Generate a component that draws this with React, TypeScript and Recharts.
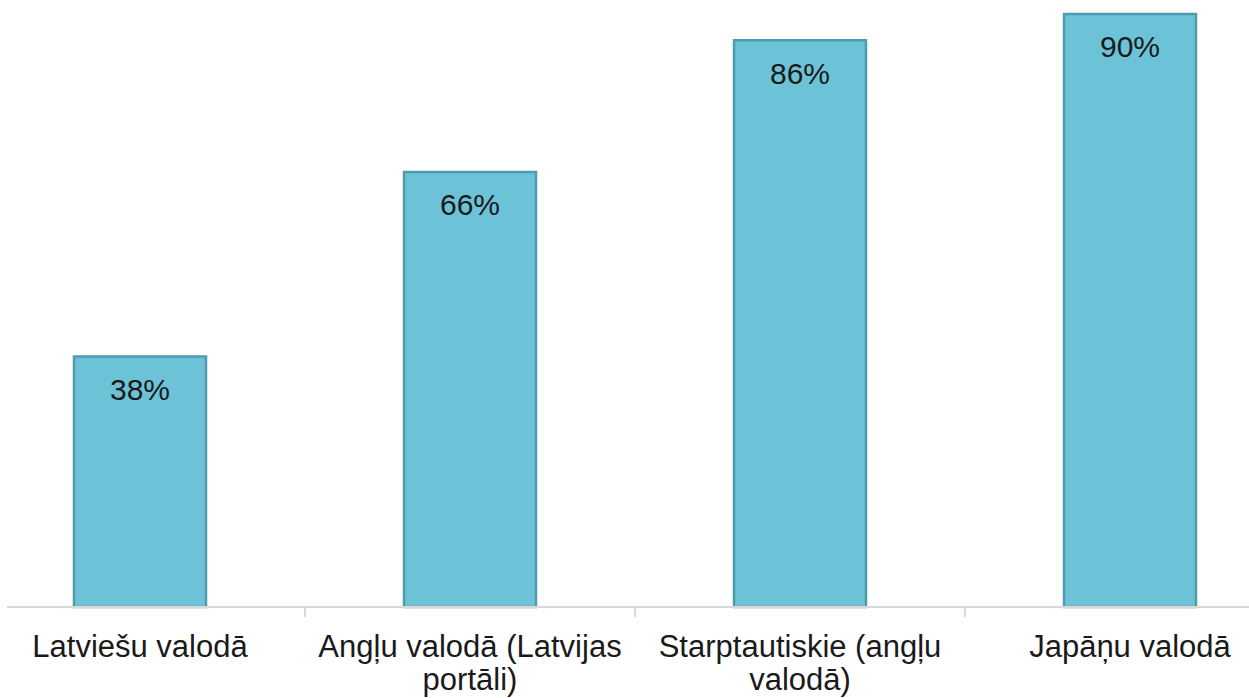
import { Bar, BarChart, LabelList, XAxis, YAxis } from "recharts";

const categories = [
  "Latviešu valodā",
  "Angļu valodā (Latvijas portāli)",
  "Starptautiskie (angļu valodā)",
  "Japāņu valodā",
];
const shares = [38, 66, 86, 90];

const data = categories.map((name, i) => ({ name, v: shares[i] }));

const FILL = "#6cc3d7";
const EDGE = "#4f9bb0";
const AXIS = "#d9d9d9";
const INK = "#1a1a1a";
const FONT = "'Liberation Sans', Arial, sans-serif";
const HALF_BAND = 165;

function wrap(label: string, max = 22) {
  const lines: string[] = [];
  let cur = "";
  for (const w of label.split(" ")) {
    const next = cur ? `${cur} ${w}` : w;
    if (next.length > max && cur) {
      lines.push(cur);
      cur = w;
    } else cur = next;
  }
  if (cur) lines.push(cur);
  return lines;
}

function CategoryTick(props: any) {
  const { x, y, payload, index } = props;
  const lines = wrap(payload.value);
  return (
    <g>
      {index > 0 && (
        <line x1={x - HALF_BAND} x2={x - HALF_BAND} y1={y - 8} y2={y + 2} stroke={AXIS} strokeWidth={2} />
      )}
      <text x={x} y={y} textAnchor="middle" fill={INK} fontSize={31} fontFamily={FONT}>
        {lines.map((l, i) => (
          <tspan key={i} x={x} dy={i === 0 ? 42 : 33}>
            {l}
          </tspan>
        ))}
      </text>
    </g>
  );
}

export default function App() {
  return (
    <div style={{ position: "fixed", left: 0, top: 0, width: 1249, height: 698, overflow: "hidden", background: "#fff" }}>
      <div style={{ position: "absolute", left: -25, top: -62 }}>
        <BarChart width={1320} height={760} data={data} margin={{ top: 10, right: 0, left: 0, bottom: 0 }}>
          <YAxis hide domain={[0, 100]} />
          <XAxis
            dataKey="name"
            height={91}
            interval={0}
            axisLine={{ stroke: AXIS, strokeWidth: 2 }}
            tickLine={false}
            tick={<CategoryTick />}
          />
          <Bar dataKey="v" barSize={132} fill={FILL} stroke={EDGE} strokeWidth={2.5} isAnimationActive={false}>
            <LabelList
              dataKey="v"
              position="insideTop"
              offset={22}
              formatter={(v: any) => `${v}%`}
              fill={INK}
              fontSize={30}
              fontFamily={FONT}
            />
          </Bar>
        </BarChart>
      </div>
      {/* the source image is cropped a few pixels into the axis line */}
      <div style={{ position: "absolute", left: 0, top: 600, width: 7, height: 14, background: "#fff" }} />
    </div>
  );
}
